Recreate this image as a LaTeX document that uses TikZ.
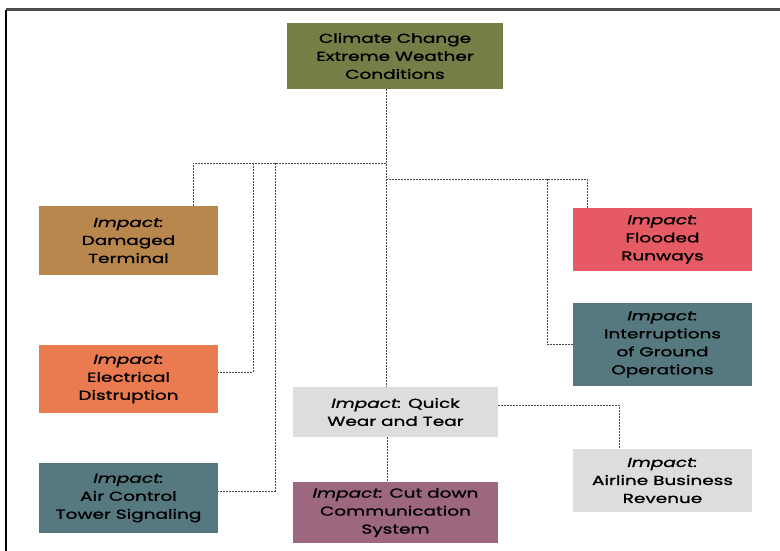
\documentclass[tikz,border=0pt]{standalone}
\usepackage{fontspec}
\setmainfont{Poppins}[FakeStretch=1.42,FakeBold=1.2]
\usepackage{tikz}

\definecolor{olivebox}{HTML}{767D47}
\definecolor{tanbox}{HTML}{B8874E}
\definecolor{orangebox}{HTML}{EA7A4F}
\definecolor{tealbox}{HTML}{56797F}
\definecolor{redbox}{HTML}{E65A63}
\definecolor{greybox}{HTML}{DDDDDD}
\definecolor{mauvebox}{HTML}{9D687F}
\definecolor{linkgrey}{HTML}{4A4A4A}

\begin{document}
\begin{tikzpicture}[x=1pt,y=-1pt,auto=center,
	impactbox/.style={inner sep=0pt,align=center,minimum width=179pt,
		font=\fontsize{13}{18}\selectfont},
	link/.style={linkgrey,line width=1pt,dash pattern=on 2pt off 1pt}]
			%\draw [help lines] (0,0) grid (780,551);
			\useasboundingbox (0,0) rectangle (780,551);
			\draw[line width=3pt,black!70] (6,10) -- (780,10);
			\draw[line width=1.5pt,black] (6,10) -- (6,551);
			% boxes
			\node[impactbox,fill=olivebox,minimum width=216pt,minimum height=66pt] (clim) at (395,56) {Climate Change\\Extreme Weather\\Conditions};
			\node[impactbox,fill=tanbox,minimum height=69pt] (dmg) at (128.5,240.5) {\textit{Impact:}\\Damaged\\Terminal};
			\node[impactbox,fill=orangebox,minimum height=68pt] (elec) at (128.5,379) {\textit{Impact:}\\Electrical\\Distruption};
			\node[impactbox,fill=tealbox,minimum height=70pt] (air) at (128.5,498) {\textit{Impact:}\\Air Control\\Tower Signaling};
			\node[impactbox,fill=redbox,minimum height=63pt] (flood) at (662.5,239.5) {\textit{Impact:}\\Flooded\\Runways};
			\node[impactbox,fill=tealbox,minimum height=83pt] (inter) at (662.5,344.5) {\textit{Impact:}\\Interruptions\\of Ground\\Operations};
			\node[impactbox,fill=greybox,minimum width=205pt,minimum height=50pt] (wear) at (395.5,412) {\textit{Impact:} Quick\\Wear and Tear};
			\node[impactbox,fill=mauvebox,minimum width=205pt,minimum height=61pt] (cut) at (395.5,512.5) {\textit{Impact:} Cut down\\Communication\\System};
			\node[impactbox,fill=greybox,minimum height=63pt] (rev) at (662.5,480.5) {\textit{Impact:}\\Airline Business\\Revenue};
			% connectors
			\coordinate (jl) at (386,163);
			\coordinate (jr) at (386,179);
			\draw[link] ([xshift=-9pt]clim.south) -- ([xshift=-9.5pt]wear.north);
			\draw[link] (jl) -- (193,163) -- (dmg.north -| 193,0);
			\draw[link] (253,163) |- ([yshift=7pt]elec.east);
			\draw[link] (275,163) |- ([yshift=7pt]air.east);
			\draw[link] (jr) -- (587,179) -- (flood.north -| 587,0);
			\draw[link] (547,179) |- (inter.west);
			\draw[link] ([yshift=7pt]wear.east) -| (rev.north -| 619,0);
			\draw[link] ([xshift=-8.5pt]wear.south) -- ([xshift=-8.5pt]cut.north);
		\end{tikzpicture}
\end{document}
